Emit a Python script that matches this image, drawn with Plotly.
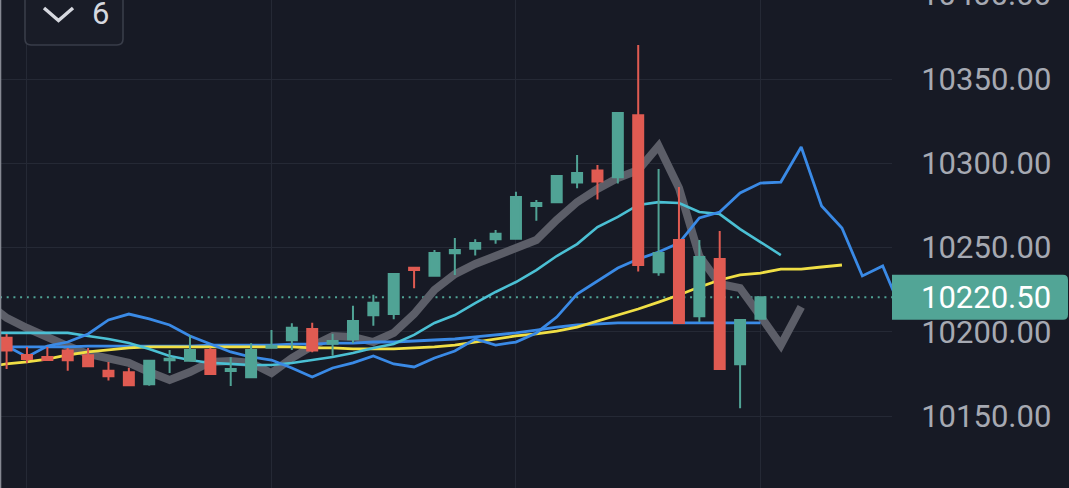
import plotly.graph_objects as go

# ---------------- data ----------------
opens = [10196.6, 10186.3, 10185.1, 10188.9, 10186.1, 10177.0, 10176.0, 10168.9, 10183.2, 10182.9,
         10189.3, 10176.8, 10173.1, 10190.6, 10195.0, 10201.7, 10193.0, 10195.6, 10209.9, 10210.6,
         10238.1, 10233.3, 10246.6, 10249.4, 10254.9, 10255.3, 10274.7, 10276.9, 10288.7, 10295.8,
         10291.7, 10328.5, 10235.4, 10254.5, 10209.3, 10243.2, 10180.8, 10207.8]
highs = [10198.8, 10191.1, 10191.1, 10190.5, 10190.5, 10182.2, 10178.8, 10182.9, 10189.3, 10197.8,
         10190.6, 10184.9, 10193.2, 10201.1, 10205.1, 10205.5, 10198.9, 10215.5, 10222.1, 10234.3,
         10238.1, 10248.6, 10255.7, 10254.9, 10260.4, 10283.2, 10278.2, 10292.5, 10304.9, 10299.0,
         10329.8, 10370.2, 10296.6, 10285.9, 10254.5, 10259.8, 10207.1, 10220.5]
lows = [10178.0, 10181.6, 10183.3, 10177.0, 10179.6, 10171.1, 10168.3, 10168.1, 10175.6, 10182.9,
        10175.0, 10167.9, 10173.1, 10190.6, 10189.3, 10187.9, 10185.9, 10193.2, 10203.7, 10207.5,
        10225.9, 10233.3, 10233.8, 10245.4, 10252.3, 10255.3, 10266.0, 10276.9, 10285.2, 10278.6,
        10288.1, 10235.9, 10233.3, 10205.3, 10205.9, 10178.0, 10154.7, 10207.8]
closes = [10188.9, 10183.9, 10183.3, 10183.2, 10179.6, 10173.7, 10168.3, 10182.9, 10184.1, 10189.3,
          10175.0, 10178.0, 10189.3, 10191.8, 10202.5, 10188.9, 10194.6, 10206.5, 10217.3, 10234.3,
          10236.7, 10246.8, 10248.6, 10252.7, 10258.2, 10280.0, 10276.5, 10292.5, 10294.2, 10289.3,
          10329.8, 10239.7, 10246.8, 10205.3, 10244.4, 10178.0, 10207.1, 10220.5]

# indicator lines start one bar before the first visible candle (index -1)
ma_gray = [10217.7, 10208.3, 10202.3, 10196.4, 10191.6, 10186.9, 10184.5, 10181.6, 10176.2, 10171.5,
           10176.2, 10182.2, 10182.7, 10181.6, 10175.6, 10184.5, 10191.6, 10197.6, 10197.0, 10194.0,
           10199.4, 10210.6, 10224.9, 10234.3, 10240.3, 10245.0, 10249.2, 10254.5, 10266.4, 10277.0,
           10284.8, 10291.3, 10296.0, 10310.3, 10285.4, 10245.0, 10228.4, 10226.0, 10209.4, 10192.2,
           10214.8]
ma_cyan = [10199.4, 10199.4, 10199.4, 10199.4, 10199.4, 10197.6, 10195.8, 10193.4, 10189.9, 10185.7,
           10183.3, 10181.6, 10181.0, 10180.4, 10180.4, 10181.6, 10183.3, 10185.1, 10187.5, 10190.5,
           10192.8, 10198.2, 10205.3, 10210.0, 10217.1, 10223.7, 10229.6, 10236.7, 10245.0, 10252.1,
           10262.2, 10268.2, 10275.3, 10277.0, 10276.5, 10271.1, 10269.9, 10261.0, 10253.3, 10245.6]
ma_blue = [10196.9, 10191.6, 10185.1, 10191.6, 10194.0, 10198.8, 10207.1, 10210.6, 10207.7, 10204.1,
           10197.6, 10192.8, 10188.1, 10185.1, 10183.3, 10178.6, 10173.3, 10178.6, 10181.6, 10185.7,
           10181.0, 10179.2, 10184.5, 10188.7, 10195.8, 10192.2, 10194.0, 10199.4, 10208.8, 10222.5,
           10230.2, 10237.9, 10243.2, 10247.4, 10252.7, 10267.6, 10271.1, 10282.4, 10288.3, 10288.9,
           10309.7, 10274.7, 10261.6, 10233.2, 10239.1, 10210.6]
ma_flat = [10191.1, 10191.1, 10191.1, 10191.1, 10191.1, 10191.6, 10191.6, 10191.6, 10191.6, 10191.6,
           10191.6, 10192.2, 10192.2, 10192.2, 10192.2, 10192.8, 10192.8, 10193.4, 10193.4, 10194.0,
           10194.0, 10194.6, 10195.2, 10195.8, 10197.0, 10198.2, 10199.4, 10201.1, 10202.9, 10204.1,
           10204.7, 10205.3, 10205.3, 10205.3, 10205.3, 10205.3, 10205.3, 10205.3, 10205.3]
ma_yellow = [10179.2, 10181.0, 10182.2, 10183.9, 10186.3, 10188.1, 10189.3, 10190.5, 10191.1, 10191.1,
             10191.1, 10191.1, 10191.1, 10191.1, 10191.1, 10191.1, 10190.5, 10190.5, 10189.9, 10189.9,
             10189.9, 10190.5, 10191.1, 10192.2, 10194.0, 10195.8, 10197.6, 10198.8, 10200.5, 10202.9,
             10206.5, 10210.0, 10213.6, 10217.7, 10221.9, 10226.6, 10230.8, 10233.8, 10234.9, 10237.3,
             10237.3, 10238.5, 10239.7]

last_price = 10220.50
price_label = "10220.50"
top_tick_label = "10400.00"
top_tick_value = 10400
button_text = "6"

# ---------------- style ----------------
W, H = 1069, 488
M_R = 177
BG = "#171a25"
GRID = "#252935"
UP = "#50a395"
DOWN = "#e05b52"
TICK_COL = "#a6a9b2"
FONT = "Roboto"

X_RANGE = [-0.324, 43.456]
Y_RANGE = [10107.4, 10396.9]

fig = go.Figure()

def add_line(vals, color, width):
    fig.add_trace(go.Scatter(x=list(range(-1, len(vals) - 1)), y=vals, mode="lines",
                             line=dict(color=color, width=width, shape="linear"),
                             hoverinfo="skip", showlegend=False))

add_line(ma_gray, "#5c5e68", 8)
add_line(ma_flat, "#3a8ae6", 2.8)
add_line(ma_yellow, "#f0df45", 2.8)
add_line(ma_cyan, "#4bc0d4", 2.6)
add_line(ma_blue, "#3a8ae6", 2.8)

fig.add_trace(go.Candlestick(
    x=list(range(len(opens))), open=opens, high=highs, low=lows, close=closes,
    increasing=dict(line=dict(color=UP, width=2), fillcolor=UP),
    decreasing=dict(line=dict(color=DOWN, width=2), fillcolor=DOWN),
    xaxis="x2", yaxis="y2", showlegend=False, hoverinfo="skip"))

plot_w = W - M_R

def px_x(p):
    return p / plot_w

def px_y(p):
    return 1 - p / H

def val_to_paper(v):
    return (v - Y_RANGE[0]) / (Y_RANGE[1] - Y_RANGE[0])

shapes = []
# dotted last-price line
shapes.append(dict(type="line", xref="paper", yref="y", x0=0, x1=1, y0=last_price, y1=last_price,
                   line=dict(color=UP, width=2, dash="2px,4.7px"), layer="below"))
# left window edge
shapes.append(dict(type="line", xref="paper", yref="paper", x0=0.0006, x1=0.0006, y0=0, y1=1,
                   line=dict(color="#858892", width=1.5), layer="above"))

# price label box (rounded right corners)
yc = val_to_paper(last_price)
hh = 22.5 / H
x0 = 1.0
x1 = px_x(1068)
rx = 5 / plot_w
ry = 5 / H
path = (f"M {x0},{yc-hh} L {x1-rx},{yc-hh} Q {x1},{yc-hh} {x1},{yc-hh+ry} "
        f"L {x1},{yc+hh-ry} Q {x1},{yc+hh} {x1-rx},{yc+hh} L {x0},{yc+hh} Z")
shapes.append(dict(type="path", xref="paper", yref="paper", path=path,
                   fillcolor="#52a596", line=dict(width=0), layer="above"))

# top-left button
bx0, bx1, by0, by1 = px_x(25), px_x(123), px_y(-12), px_y(45)
brx, bry = 6 / plot_w, 6 / H
bpath = (f"M {bx0},{by0} L {bx0},{by1+bry} Q {bx0},{by1} {bx0+brx},{by1} "
         f"L {bx1-brx},{by1} Q {bx1},{by1} {bx1},{by1+bry} L {bx1},{by0}")
shapes.append(dict(type="path", xref="paper", yref="paper", path=bpath,
                   fillcolor="#191c27", line=dict(color="#393d49", width=1.6), layer="above"))
cpath = f"M {px_x(44)},{px_y(8)} L {px_x(58.5)},{px_y(20.5)} L {px_x(73)},{px_y(8)}"
shapes.append(dict(type="path", xref="paper", yref="paper", path=cpath,
                   line=dict(color="#d6d8df", width=3.4), layer="above"))

annotations = [
    dict(text=price_label, xref="paper", yref="y", x=px_x(919), y=last_price,
         xanchor="left", yanchor="middle", showarrow=False,
         font=dict(family=FONT, size=31, color="#ffffff")),
    dict(text=top_tick_label, xref="paper", yref="paper", x=px_x(919), y=val_to_paper(top_tick_value),
         xanchor="left", yanchor="middle", showarrow=False,
         font=dict(family=FONT, size=31, color=TICK_COL)),
    dict(text=button_text, xref="paper", yref="paper", x=px_x(100), y=px_y(13),
         xanchor="center", yanchor="middle", showarrow=False,
         font=dict(family=FONT, size=31, color="#d6d8df")),
]

fig.update_layout(
    width=W, height=H,
    margin=dict(l=0, r=M_R, t=0, b=0, pad=0),
    paper_bgcolor=BG, plot_bgcolor=BG,
    showlegend=False,
    shapes=shapes, annotations=annotations,
    xaxis=dict(range=X_RANGE, showgrid=True, gridcolor=GRID, gridwidth=1,
               tick0=1, dtick=12, showticklabels=False, zeroline=False,
               showline=False, ticks="", fixedrange=True),
    yaxis=dict(range=Y_RANGE, side="right", showgrid=True, gridcolor=GRID, gridwidth=1,
               tick0=10000, dtick=50, tickformat=".2f", zeroline=False, showline=False,
               ticks="outside", ticklen=22, tickcolor="rgba(0,0,0,0)",
               tickfont=dict(family=FONT, size=31, color=TICK_COL), fixedrange=True),
    xaxis2=dict(range=X_RANGE, overlaying="x", visible=False, rangeslider=dict(visible=False),
                fixedrange=True),
    yaxis2=dict(range=Y_RANGE, overlaying="y", side="right", visible=False, fixedrange=True),
)
fig.update_xaxes(rangeslider_visible=False)

fig.write_html(
    "out.html",
    config={"displayModeBar": False},
    post_script="document.body.style.margin='0px';document.body.style.background='%s';" % BG,
)
